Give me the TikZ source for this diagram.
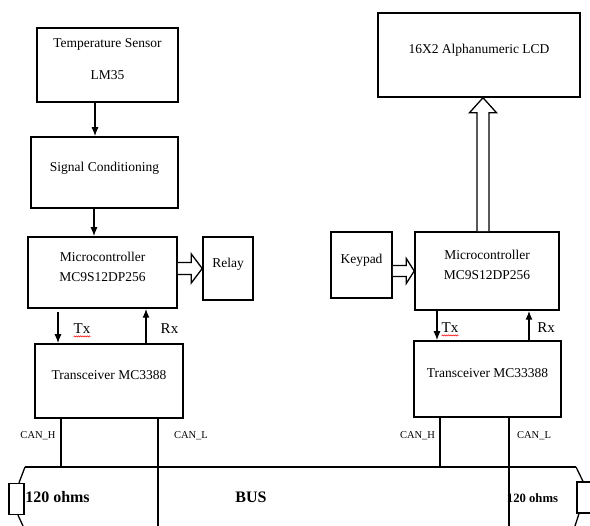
\documentclass[tikz,border=0pt]{standalone}
\usepackage{fontspec}
\setmainfont{Liberation Serif}
\usetikzlibrary{arrows.meta,calc,decorations.pathmorphing}

\newcommand{\blockfont}{\fontsize{13.5}{20}\selectfont}

\begin{document}
\begin{tikzpicture}[x=1pt, y=-1pt,
		>={Latex[length=9pt,width=7pt]},
		block/.style={draw, line width=1.5pt, font=\blockfont, align=center, inner sep=0pt, text depth=12pt},
		conn/.style={line width=1.3pt},
		fat/.style={draw, line width=1.3pt, fill=white, line join=miter},
		canlbl/.style={font=\fontsize{10.5}{12}\selectfont},
		sig/.style={inner sep=0pt, font=\fontsize{15}{17}\selectfont},
		big/.style={font=\bfseries\fontsize{16}{18}\selectfont},
		spell/.style={red, line width=0.5pt, decorate, decoration={snake, amplitude=0.6pt, segment length=2.2pt}}]
	\useasboundingbox (0,0) rectangle (590,526);

	% left node: sensor side
	\node[block, minimum width=141, minimum height=74] (sensor) at (107.5,65) {Temperature Sensor\\[12pt]LM35};
	\node[block, minimum width=147, minimum height=71] (signal) at (104.5,172.5) {Signal Conditioning};
	\node[block, minimum width=149, minimum height=71] (micl) at (102.5,272.5) {Microcontroller\\MC9S12DP256};
	\node[block, minimum width=50, minimum height=63] (relay) at (228,268.5) {Relay};
	\node[block, minimum width=148, minimum height=74] (trl) at (109,381) {Transceiver MC3388};

	\draw[conn, ->] ([xshift=-12.5]sensor.south) -- ([xshift=-12.5]sensor.south |- signal.north);
	\draw[conn, ->] ([xshift=-10.5]signal.south) -- ([xshift=-10.5]signal.south |- micl.north);

	% micro -> relay
	\draw[fat] ($(micl.east |- relay.west)+(0,-6)$) -- ($(relay.west)+(-11,-6)$) -- ($(relay.west)+(-11,-14.5)$)
		-- (relay.west) -- ($(relay.west)+(-11,14.5)$) -- ($(relay.west)+(-11,6)$) -- ($(micl.east |- relay.west)+(0,6)$);

	% Tx / Rx
	\draw[conn, ->] ([xshift=-44.5,yshift=-3]micl.south) -- ([xshift=-44.5]micl.south |- trl.north);
	\draw[conn, ->] ([xshift=43.5]micl.south |- trl.north) -- ([xshift=43.5]micl.south);
	\node[sig] (txl) at (82,329) {Tx};
	\node[sig] (rxl) at (169.5,329) {Rx};
	\draw[spell] ($(txl.base west)+(0,2.5)$) -- ($(txl.base east)+(0,2.5)$);

	% right node: display side
	\node[block, minimum width=202, minimum height=84] (lcd) at (479,55) {16X2 Alphanumeric LCD};
	\node[block, minimum width=61, minimum height=66] (keypad) at (361.5,265) {Keypad};
	\node[block, minimum width=144, minimum height=78] (micr) at (487,271) {Microcontroller\\MC9S12DP256};
	\node[block, minimum width=147, minimum height=76] (trr) at (487.5,379) {Transceiver MC33388};

	% keypad -> micro
	\draw[fat] ($(keypad.east |- micr.west)+(0,-5.5)$) -- ($(micr.west)+(-8,-5.5)$) -- ($(micr.west)+(-8,-12.5)$)
		-- (micr.west) -- ($(micr.west)+(-8,12.5)$) -- ($(micr.west)+(-8,5.5)$) -- ($(keypad.east |- micr.west)+(0,5.5)$);

	% micro -> lcd
	\path ($(micr.north)+(-4,0)$) coordinate (upbase);
	\coordinate (uptip) at (upbase |- lcd.south);
	\draw[fat] ($(upbase)+(-6,0)$) -- ($(uptip)+(-6,15)$) -- ($(uptip)+(-13.5,15)$)
		-- (uptip) -- ($(uptip)+(13.5,15)$) -- ($(uptip)+(6,15)$) -- ($(upbase)+(6,0)$);

	\draw[conn, ->] ([xshift=-50]micr.south) -- ([xshift=-50]micr.south |- trr.north);
	\draw[conn, ->] ([xshift=42]micr.south |- trr.north) -- ([xshift=42]micr.south);
	\node[sig] (txr) at (450,328) {Tx};
	\node[sig] (rxr) at (546,328) {Rx};
	\draw[spell] ($(txr.base west)+(0,2.5)$) -- ($(txr.base east)+(0,2.5)$);

	% bus
	\coordinate (busl) at (25,467);
	\coordinate (busr) at (576,467);
	\coordinate (bot) at (0,526);
	\draw[conn] (busl) -- (busr);

	\draw[conn] ([xshift=-48]trl.south) -- ([xshift=-48]trl.south |- busl);
	\draw[conn] ([xshift=49]trl.south) -- ([xshift=49]trl.south |- bot);
	\draw[conn] ([xshift=-47.5]trr.south) -- ([xshift=-47.5]trr.south |- busl);
	\draw[conn] ([xshift=21.5]trr.south) -- ([xshift=21.5]trr.south |- bot);

	\node[canlbl] (canhl) at (38,436) {CAN\_H};
	\node[canlbl] (canll) at (191,436) {CAN\_L};
	\node[canlbl] (canhr) at (417.5,436) {CAN\_H};
	\node[canlbl] (canlr) at (534,436) {CAN\_L};

	% termination
	\node[draw, line width=1.3pt, minimum width=15, minimum height=31, inner sep=0pt] (res1) at (16.5,499) {};
	\node[draw, line width=1.3pt, minimum width=24, minimum height=31, inner sep=0pt] (res2) at (589,497.5) {};
	\coordinate (res1end) at (23,526);
	\coordinate (res2end) at (575,526);
	\draw[conn] (busl) -- ([xshift=2.5]res1.north);
	\draw[conn] ([xshift=1.5]res1.south) -- (res1end);
	\draw[conn] (busr) -- ([xshift=-6]res2.north);
	\draw[conn] ([xshift=-10]res2.south) -- (res2end);

	\node[big] (ohml) at (57.5,497) {120 ohms};
	\node[big] (bus) at (251,497) {BUS};
	\node[font=\bfseries\fontsize{12.7}{15}\selectfont] (ohmr) at (532.5,498) {120 ohms};
\end{tikzpicture}
\end{document}
